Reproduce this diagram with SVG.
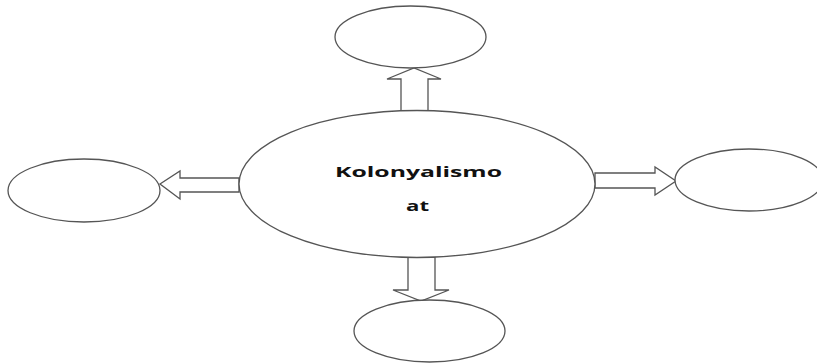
<svg xmlns="http://www.w3.org/2000/svg" width="817" height="363" viewBox="0 0 817 363">
<style>
.n{fill:#fff;stroke:#555;stroke-width:1.3}
.a{fill:#fff;stroke:#555;stroke-width:1.3;stroke-linejoin:miter}
.t{font-family:"Open Sans","DejaVu Sans",sans-serif;font-weight:bold;font-size:15px;fill:#111}
</style>
<rect width="817" height="363" fill="#fff"/>
<g id="connectors">
<polygon class="a" points="401,111 401,79 387,79 414,68 441,79 428,79 428,111"/>
<polygon class="a" points="239,178 180,178 180,171 160,184 180,199 180,192 239,192"/>
<polygon class="a" points="595,173 655,173 655,167 676,181 655,195 655,188 595,188"/>
<polygon class="a" points="408,257 408,290 393,290 421,301 449,290 435,290 435,257"/>
</g>
<g id="center">
<ellipse class="n" cx="417" cy="184" rx="178" ry="73.5"/>
<text class="t" x="335" y="177" textLength="167" lengthAdjust="spacingAndGlyphs">Kolonyalismo</text>
<text class="t" x="406" y="211" textLength="23" lengthAdjust="spacingAndGlyphs">at</text>
</g>
<g id="top"><ellipse class="n" cx="410.5" cy="37" rx="75.5" ry="31"/></g>
<g id="left"><ellipse class="n" cx="84" cy="190.5" rx="76" ry="31.5"/></g>
<g id="right"><ellipse class="n" cx="749" cy="180" rx="74" ry="31"/></g>
<g id="bottom"><ellipse class="n" cx="429.5" cy="331" rx="75.5" ry="31"/></g>
</svg>
